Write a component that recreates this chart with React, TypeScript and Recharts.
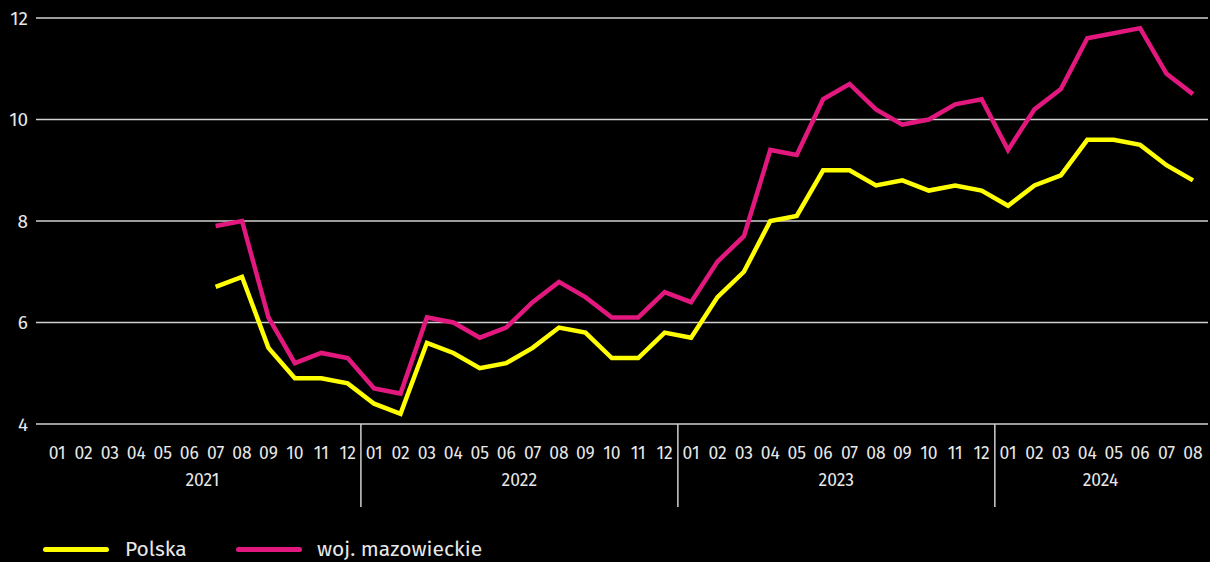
import { LineChart, Line, XAxis, YAxis, CartesianGrid, Legend } from "recharts";

const FONT = '"Fira Sans", "Open Sans", "Noto Sans", sans-serif';
const TEXT = "#e8e8e8";
const GRID = "#d0d0d0";
const YELLOW = "#ffff00";
const MAGENTA = "#e2187f";

// one label per year, and how many months of it are on the axis
const years = ["2021", "2022", "2023", "2024"];
const monthsPerYear = [12, 12, 12, 8];
const monthLabels = ["01", "02", "03", "04", "05", "06", "07", "08", "09", "10", "11", "12"];

// values from 2021-01 to 2024-08, nothing before 2021-07
const polska = [
  null, null, null, null, null, null, 6.7, 6.9, 5.5, 4.9, 4.9, 4.8,
  4.4, 4.2, 5.6, 5.4, 5.1, 5.2, 5.5, 5.9, 5.8, 5.3, 5.3, 5.8,
  5.7, 6.5, 7.0, 8.0, 8.1, 9.0, 9.0, 8.7, 8.8, 8.6, 8.7, 8.6,
  8.3, 8.7, 8.9, 9.6, 9.6, 9.5, 9.1, 8.8,
];
const mazowieckie = [
  null, null, null, null, null, null, 7.9, 8.0, 6.1, 5.2, 5.4, 5.3,
  4.7, 4.6, 6.1, 6.0, 5.7, 5.9, 6.4, 6.8, 6.5, 6.1, 6.1, 6.6,
  6.4, 7.2, 7.7, 9.4, 9.3, 10.4, 10.7, 10.2, 9.9, 10.0, 10.3, 10.4,
  9.4, 10.2, 10.6, 11.6, 11.7, 11.8, 10.9, 10.5,
];

const yTicks = [4, 6, 8, 10, 12];

const data: any[] = [];
const yearMid: number[] = [];
const yearSep: number[] = [];
{
  let i = 0;
  years.forEach((yr, yi) => {
    const start = i;
    for (let m = 0; m < monthsPerYear[yi]; m++) {
      data.push({ idx: i, year: yr, month: monthLabels[m], polska: polska[i], mazowieckie: mazowieckie[i] });
      i++;
    }
    yearMid.push((start + i - 1) / 2);
    if (yi < years.length - 1) yearSep.push(i - 0.5);
  });
}
const xTicks = [...data.map((d) => d.idx), ...yearMid, ...yearSep].sort((a, b) => a - b);

const AxisTick = ({ x, y, payload }: any) => {
  const v = payload.value;
  if (Number.isInteger(v)) {
    return (
      <text x={x} y={y + 29} dy="0.355em" textAnchor="middle" fill={TEXT} fontSize={17.5} fontFamily={FONT}>
        {data[v].month}
      </text>
    );
  }
  const yi = yearMid.indexOf(v);
  if (yi >= 0) {
    return (
      <text x={x} y={y + 56} dy="0.355em" textAnchor="middle" fill={TEXT} fontSize={17.5} fontFamily={FONT}>
        {years[yi]}
      </text>
    );
  }
  return <line x1={x} x2={x} y1={y} y2={y + 83} stroke={GRID} strokeWidth={1.5} />;
};

const LegendContent = () => (
  <div style={{ display: "flex", alignItems: "center", height: 26, fontFamily: FONT, fontSize: 21, color: TEXT }}>
    <span style={{ display: "inline-block", width: 66, height: 5, borderRadius: 3, background: YELLOW, marginLeft: 43 }} />
    <span style={{ display: "inline-block", width: 111, marginLeft: 16 }}>Polska</span>
    <span style={{ display: "inline-block", width: 66, height: 5, borderRadius: 3, background: MAGENTA }} />
    <span style={{ marginLeft: 15 }}>woj. mazowieckie</span>
  </div>
);

export default function App() {
  return (
    <div style={{ position: "absolute", left: 0, top: 0, width: 1210, height: 562, background: "#000" }}>
      <LineChart width={1210} height={562} data={data} margin={{ top: 18, right: 2, left: 0, bottom: 22 }}>
        <CartesianGrid vertical={false} stroke={GRID} strokeWidth={1.5} />
        <XAxis
          dataKey="idx"
          type="number"
          domain={[-0.8, 43.57]}
          ticks={xTicks}
          interval={0}
          tick={<AxisTick />}
          tickLine={false}
          axisLine={false}
          tickSize={0}
          tickMargin={0}
          height={90}
        />
        <YAxis
          domain={[4, 12]}
          ticks={yTicks}
          width={36}
          tickLine={false}
          axisLine={false}
          tickMargin={2}
          tick={{ fill: TEXT, fontSize: 19, fontFamily: FONT }}
        />
        <Legend content={<LegendContent />} verticalAlign="bottom" wrapperStyle={{ left: 0, bottom: 0, width: 1210, height: 26 }} />
        <Line type="linear" dataKey="polska" name="Polska" stroke={YELLOW} strokeWidth={4.5} dot={false} isAnimationActive={false} />
        <Line type="linear" dataKey="mazowieckie" name="woj. mazowieckie" stroke={MAGENTA} strokeWidth={4.5} dot={false} isAnimationActive={false} />
      </LineChart>
    </div>
  );
}
